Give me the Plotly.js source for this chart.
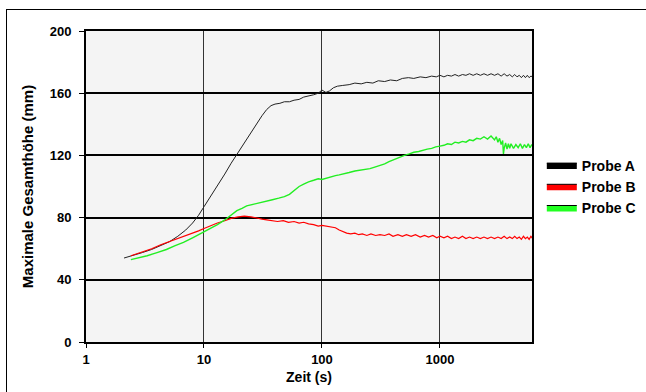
<!DOCTYPE html>
<html>
<head>
<meta charset="utf-8">
<script src="https://cdn.plot.ly/plotly-3.0.1.min.js"></script>
<style>
  html, body { margin: 0; padding: 0; background: #ffffff; }
  #frame { position: absolute; left: 6px; top: 9px; width: 700px; height: 420px; border: 1.5px solid #000; box-sizing: border-box; }
  #chart { position: absolute; left: 0; top: 0; width: 646px; height: 392px; }
</style>
</head>
<body>
<div id="frame"></div>
<div id="chart"></div>
<script>
// Probe A (black)
const timeA = [2.1, 2.5, 3.0, 3.6, 4.3, 5.1, 6.0, 7.0, 8.0, 9.0, 10, 11.5, 13, 15, 17, 19.5, 22, 25, 28, 31, 34, 37, 40, 44, 48, 53, 58, 64, 70, 77, 85, 93, 100, 108, 116, 125, 135, 150, 170, 190, 215, 240, 270, 300, 340, 380, 430, 480, 540, 600, 680, 760, 850, 930, 1000, 1080, 1160, 1250, 1340, 1440, 1550, 1660, 1780, 1910, 2050, 2200, 2360, 2530, 2710, 2900, 3100, 3300, 3500, 3700, 3900, 4100, 4300, 4500, 4700, 4900, 5100, 5300, 5500, 5700, 5900, 6100];
const probeA = [54, 55.5, 57.5, 59.5, 62, 64.5, 68, 72, 76.5, 81.5, 87, 94, 100, 108, 115, 122, 128, 134.5, 140.5, 145.5, 149.5, 152, 153, 153.5, 154.5, 154.5, 155.5, 156, 157.5, 158, 159, 160, 162, 160.5, 161.5, 163.5, 164.5, 165, 165.5, 166.5, 166, 167, 166.5, 168, 167.5, 168.5, 168, 169.5, 170, 169.5, 170.5, 170, 171, 170.5, 171.5, 170.5, 171.5, 171, 172, 171, 172, 171.5, 172.5, 171.5, 172.5, 171.5, 172.5, 171.5, 172.5, 171.5, 172.5, 171, 172.5, 171, 172, 170.5, 172, 170.5, 171.5, 170, 171.5, 170, 171.5, 170, 171, 170.5];

// Probe B (red)
const timeB = [2.4, 3.0, 3.6, 4.3, 5.1, 6.0, 7.0, 8.0, 9.0, 10, 11.5, 13, 15, 17, 19.5, 22, 25, 28, 31, 34, 38, 42, 47, 52, 58, 64, 70, 77, 85, 93, 100, 110, 120, 130, 140, 150, 162, 175, 190, 205, 220, 240, 260, 285, 310, 340, 370, 400, 440, 480, 520, 570, 620, 680, 740, 800, 870, 940, 1000, 1080, 1160, 1250, 1340, 1440, 1550, 1660, 1780, 1910, 2050, 2200, 2360, 2530, 2710, 2900, 3100, 3300, 3500, 3700, 3900, 4100, 4300, 4500, 4700, 4900, 5100, 5300, 5500, 5700, 5900, 6100];
const probeB = [55.5, 58, 60, 62.5, 64.5, 66.5, 68.5, 70, 71.5, 73, 75, 76.5, 78, 79.5, 80.5, 81, 80.5, 79.5, 79, 78.5, 78, 77.5, 78, 77, 77.5, 76.5, 77, 76, 75.5, 74.5, 75, 74.5, 74, 73.5, 72, 71, 70, 69.5, 70, 69, 69.5, 68.5, 69.5, 68.5, 69, 68.5, 69.5, 68, 69, 68, 69, 68, 69, 67.5, 68.5, 67.5, 68.5, 67, 68, 67, 68, 66.5, 67.5, 66.5, 68, 66.5, 67.5, 66.5, 67.5, 66.5, 67.5, 66.5, 67.5, 66.5, 67.5, 66.5, 68, 66.5, 67.5, 66.5, 68, 66.5, 67.5, 66, 68, 66.5, 67.5, 66, 68, 66.5];

// Probe C (green)
const timeC = [2.4, 2.8, 3.3, 4.0, 4.8, 5.7, 6.7, 8.0, 9.0, 10, 11.5, 13, 15, 17, 19, 21, 23, 26, 30, 34, 38, 43, 48, 53, 58, 64, 70, 77, 85, 93, 100, 110, 120, 130, 140, 155, 170, 190, 210, 230, 255, 280, 310, 340, 370, 410, 450, 500, 550, 600, 660, 720, 780, 850, 920, 1000, 1080, 1160, 1250, 1340, 1440, 1550, 1660, 1780, 1910, 2050, 2200, 2360, 2530, 2710, 2900, 3000, 3100, 3200, 3300, 3400, 3450, 3500, 3600, 3700, 3800, 3900, 4000, 4200, 4400, 4600, 4800, 5000, 5200, 5400, 5600, 5800, 6000, 6100];
const probeC = [53, 54, 55.5, 57.5, 59.5, 62, 64, 67, 69, 71, 73.5, 75.5, 78.5, 82, 84.5, 86, 87.5, 88.5, 89.5, 90.5, 91.5, 92.5, 93.5, 95, 97.5, 100, 101.5, 103, 104, 105, 104.5, 105.5, 106.5, 107, 107.5, 108.5, 109, 110, 110.5, 111, 111.5, 112.5, 113.5, 114.5, 116, 117.5, 118.5, 120, 121, 122, 122.5, 123.5, 124, 124.5, 125.5, 126, 126.5, 127.5, 127, 128.5, 128, 129, 128.5, 130, 129.5, 131, 130.5, 132, 130.5, 132.5, 130, 132, 128.5, 131, 127, 129.5, 121, 124.5, 128, 124, 127.5, 124.5, 127.5, 124.5, 127, 125, 127.5, 124.5, 127, 125, 127.5, 125, 127, 126];

const seriesNames = ['Probe A', 'Probe B', 'Probe C'];
const seriesColors = ['#222222', '#ff0000', '#22ee22'];
const xTickVals = [1, 10, 100, 1000];
const xTickText = ['1', '10', '100', '1000'];
const yTickVals = [0, 40, 80, 120, 160, 200];

const xs = [timeA, timeB, timeC];
const ys = [probeA, probeB, probeC];
const widths = [1, 1.2, 1.4];

const traces = [];
for (let i = 0; i < 3; i++) {
  traces.push({
    x: xs[i], y: ys[i], type: 'scatter', mode: 'lines',
    line: { color: seriesColors[i], width: widths[i] },
    showlegend: false, hoverinfo: 'skip'
  });
}
const legendFill = ['#000000', '#ff0000', '#22ff22'];
for (let i = 0; i < 3; i++) {
  traces.push({
    x: [null], y: [null], type: 'scatter', mode: 'lines', fill: 'toself',
    fillcolor: legendFill[i], line: { color: '#000000', width: 1 },
    name: seriesNames[i], showlegend: true
  });
}

const FAM = 'Liberation Sans, Arial, sans-serif';
const tickFont = { family: FAM, size: 13, color: '#000', weight: 'bold' };

const layout = {
  width: 646, height: 392,
  margin: { l: 86, r: 114, t: 31, b: 50, autoexpand: false },
  paper_bgcolor: 'rgba(0,0,0,0)',
  plot_bgcolor: '#f4f4f4',
  font: tickFont,
  xaxis: {
    type: 'log', range: [0, 3.78],
    tickvals: xTickVals, ticktext: xTickText,
    showgrid: true, gridcolor: '#333333', gridwidth: 1,
    showline: true, linecolor: '#000', linewidth: 2, mirror: true,
    ticks: 'outside', ticklen: 4, tickcolor: '#000', tickwidth: 1,
    zeroline: false,
    tickfont: tickFont,
    title: { text: 'Zeit (s)', font: { family: FAM, size: 14, color: '#000', weight: 'bold' }, standoff: 7 }
  },
  yaxis: {
    range: [0, 200], tickvals: yTickVals,
    showgrid: true, gridcolor: '#000', gridwidth: 2,
    showline: true, linecolor: '#000', linewidth: 2, mirror: true,
    ticks: 'outside', ticklen: 5, tickcolor: '#000', tickwidth: 1,
    ticklabelstandoff: 5,
    zeroline: false,
    tickfont: tickFont,
    title: { text: 'Maximale Gesamthöhe (mm)', font: { family: FAM, size: 15, color: '#000', weight: 'bold' }, standoff: 12 }
  },
  legend: {
    x: 1.022, xanchor: 'left', y: 0.5, yanchor: 'middle',
    bgcolor: 'rgba(0,0,0,0)', font: { family: FAM, size: 14, color: '#000', weight: 'bold' },
    tracegroupgap: 0
  },
  showlegend: true
};

Plotly.newPlot('chart', traces, layout, { staticPlot: true, displayModeBar: false });
</script>
</body>
</html>
